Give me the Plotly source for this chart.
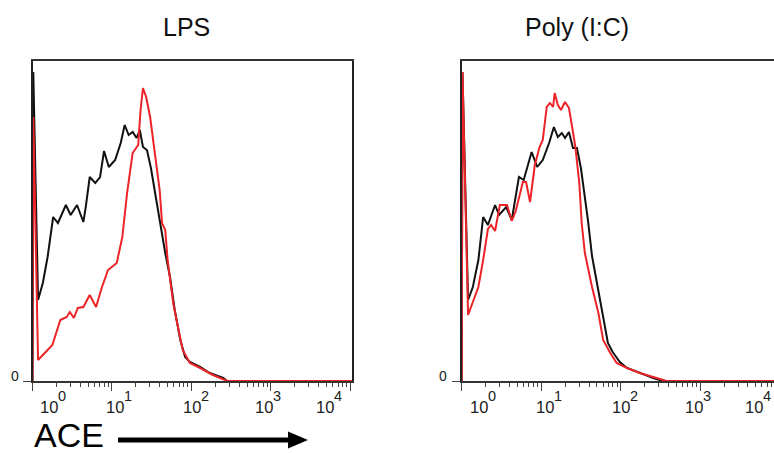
import numpy as np
import plotly.graph_objects as go

W, H = 774, 453
FONT = "Liberation Sans, Arial, sans-serif"

# ACE intensity in decades (log10) and event counts for each histogram
LPS_CTRL_X = [0.0, 0.01, 0.07, 0.13, 0.19, 0.26, 0.32, 0.42, 0.48, 0.56, 0.64, 0.67, 0.72, 0.79, 0.85,
              0.90, 0.96, 1.04, 1.11, 1.16, 1.21, 1.26, 1.31, 1.35, 1.39, 1.44, 1.49, 1.55, 1.62, 1.67,
              1.73, 1.79, 1.86, 1.92, 1.98, 2.11, 2.23, 2.40, 2.45, 4.02]
LPS_CTRL_Y = [0, 309, 81, 98, 124, 164, 158, 176, 166, 176, 159, 174, 204, 198, 204,
              230, 214, 221, 238, 256, 246, 249, 243, 251, 234, 231, 213, 184, 151, 128,
              104, 71, 41, 24, 19, 14, 8, 3, 0, 0]

LPS_STIM_X = [0.0, 0.01, 0.07, 0.16, 0.25, 0.35, 0.43, 0.47, 0.52, 0.57, 0.64, 0.72, 0.80, 0.87, 0.95,
              1.06, 1.13, 1.19, 1.26, 1.33, 1.36, 1.39, 1.43, 1.48, 1.52, 1.55, 1.60, 1.63, 1.67, 1.70,
              1.77, 1.83, 1.89, 1.98, 2.11, 2.27, 2.45, 4.02]
LPS_STIM_Y = [0, 264, 21, 29, 36, 61, 64, 69, 63, 73, 74, 86, 74, 93, 111,
              118, 144, 188, 228, 236, 271, 293, 284, 264, 239, 226, 191, 158, 151, 121,
              78, 54, 31, 18, 13, 6, 0, 0]

PIC_CTRL_X = [0.0, 0.01, 0.08, 0.14, 0.21, 0.27, 0.33, 0.42, 0.47, 0.56, 0.63, 0.72, 0.78, 0.88, 0.95,
              1.02, 1.10, 1.16, 1.21, 1.26, 1.30, 1.35, 1.40, 1.45, 1.50, 1.54, 1.59, 1.64, 1.70, 1.78,
              1.84, 1.90, 1.99, 2.08, 2.24, 2.41, 2.53, 4.0]
PIC_CTRL_Y = [0, 309, 81, 94, 121, 164, 156, 176, 166, 174, 161, 204, 201, 229, 214,
              221, 238, 254, 244, 248, 243, 249, 233, 233, 213, 190, 160, 125, 98, 61,
              38, 29, 19, 13, 8, 3, 0, 0]

PIC_STIM_X = [0.0, 0.01, 0.08, 0.14, 0.21, 0.27, 0.33, 0.37, 0.42, 0.48, 0.57, 0.63, 0.68, 0.77, 0.81,
              0.86, 0.92, 0.98, 1.02, 1.07, 1.11, 1.15, 1.17, 1.21, 1.25, 1.30, 1.35, 1.39, 1.43, 1.48,
              1.51, 1.55, 1.64, 1.72, 1.78, 1.87, 1.95, 2.08, 2.24, 2.41, 2.58, 4.0]
PIC_STIM_Y = [0, 309, 66, 78, 94, 121, 152, 156, 150, 176, 176, 160, 170, 199, 199,
              179, 216, 234, 241, 274, 278, 274, 288, 276, 271, 279, 273, 254, 234, 198,
              158, 128, 94, 68, 41, 28, 18, 13, 8, 4, 0, 0]

PANEL_TITLES = ["LPS", "Poly (I:C)"]
DECADES = [0, 1, 2, 3, 4]
EXPONENTS = ["0", "1", "2", "3", "4"]
LABEL_POS = [0.245, 1.075, 2.035, 2.95, 3.71]   # where each 10^n label sits (decades)
AXIS_LABEL = "ACE"

BLACK = "#111111"
RED = "#ec2327"


def px(x):
    return x / W


def py(y):
    return 1 - y / H


minor_vals = [d + np.log10(k) for d in range(4) for k in range(2, 10)]

fig = go.Figure()
panels = [
    ("x", "y", LPS_CTRL_X, LPS_CTRL_Y, LPS_STIM_X, LPS_STIM_Y),
    ("x2", "y2", PIC_CTRL_X, PIC_CTRL_Y, PIC_STIM_X, PIC_STIM_Y),
]
for xa, ya, cx, cy, sx, sy in panels:
    fig.add_trace(go.Scatter(x=cx, y=cy, xaxis=xa, yaxis=ya, mode="lines",
                             line=dict(color=BLACK, width=2), hoverinfo="skip"))
    fig.add_trace(go.Scatter(x=sx, y=sy, xaxis=xa, yaxis=ya, mode="lines",
                             line=dict(color=RED, width=2), hoverinfo="skip"))

x_common = dict(
    showgrid=False, zeroline=False, showline=True, linecolor="#333333", linewidth=1.5,
    mirror=True, tickmode="array", tickvals=DECADES, ticks="outside", ticklen=8,
    tickwidth=1, tickcolor="#444444", showticklabels=False,
    minor=dict(tickmode="array", tickvals=minor_vals, ticks="outside", ticklen=4,
               tickwidth=1, tickcolor="#444444", showgrid=False),
)
y_common = dict(
    showgrid=False, zeroline=False, showline=True, linecolor="#222222", linewidth=1.5,
    tickmode="array", tickvals=[0], ticks="outside", ticklen=8, tickwidth=1,
    tickcolor="#444444", showticklabels=False, range=[0, 320],
    domain=[py(381), py(61)],
)

fig.update_layout(
    width=W, height=H, margin=dict(l=0, r=0, t=0, b=0),
    paper_bgcolor="white", plot_bgcolor="white", showlegend=False,
    font=dict(family=FONT, color="#111111"),
    xaxis=dict(x_common, domain=[px(32.5), px(352)], range=[0, 4.02], anchor="y"),
    yaxis=dict(y_common, anchor="x", mirror=True),
    xaxis2=dict(x_common, domain=[px(461.7), 1.0], range=[0, 3.93], anchor="y2"),
    yaxis2=dict(y_common, anchor="x2", mirror=False),
)

annotations = []
# panel titles
for title, cx in zip(PANEL_TITLES, [186, 576.5]):
    annotations.append(dict(text=title, x=px(cx), y=py(27), xref="paper", yref="paper",
                            xanchor="center", yanchor="middle", showarrow=False,
                            font=dict(size=25, family=FONT, color="#111111")))

# decade labels (10 with exponent) and the zero count label
for xa, zero_x in [("x", 15), ("x2", 443)]:
    for pos, e in zip(LABEL_POS, EXPONENTS):
        annotations.append(dict(text="10", x=pos, y=py(406.5), xref=xa, yref="paper",
                                xanchor="right", yanchor="middle", xshift=6.5, showarrow=False,
                                borderpad=0, borderwidth=0,
                                font=dict(size=16.5, family=FONT, color="#222222")))
        annotations.append(dict(text=e, x=pos, y=py(396), xref=xa, yref="paper",
                                xanchor="left", yanchor="middle", xshift=6.5, showarrow=False,
                                borderpad=0, borderwidth=0,
                                font=dict(size=14.5, family=FONT, color="#222222")))
    annotations.append(dict(text="0", x=px(zero_x), y=py(375.5), xref="paper", yref="paper",
                            xanchor="center", yanchor="middle", showarrow=False,
                            font=dict(size=14, family=FONT, color="#222222")))

# axis name under the left panel
annotations.append(dict(text=AXIS_LABEL, x=px(34), y=py(435), xref="paper", yref="paper",
                        xanchor="left", yanchor="middle", showarrow=False,
                        borderpad=0, borderwidth=0,
                        font=dict(size=34, family=FONT, color="#000000")))
fig.update_layout(annotations=annotations)

# direction arrow next to the axis name
fig.add_shape(type="rect", xref="paper", yref="paper",
              x0=px(118), x1=px(290), y0=py(442.5), y1=py(437.5),
              fillcolor="black", line=dict(width=0))
fig.add_shape(type="path", xref="paper", yref="paper",
              path=f"M {px(288)} {py(431.5)} L {px(308)} {py(440)} L {px(288)} {py(448.5)} Z",
              fillcolor="black", line=dict(width=0))

fig.write_html("out.html")
